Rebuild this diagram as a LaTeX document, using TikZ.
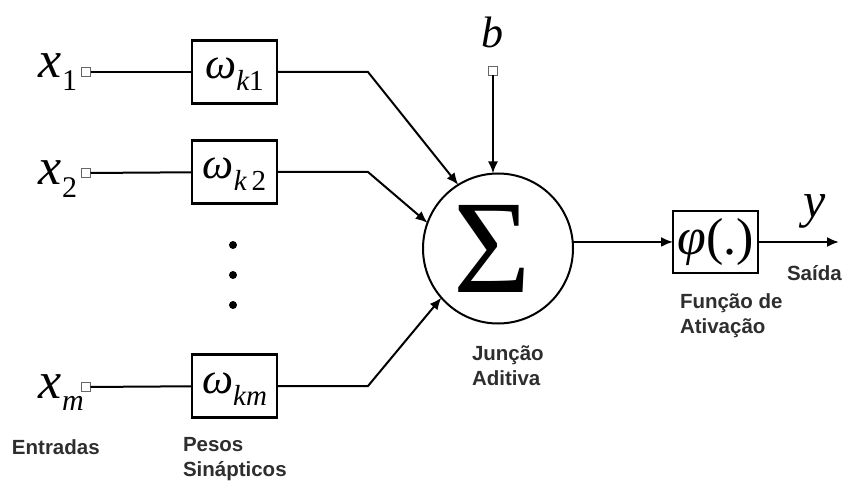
\documentclass[tikz,border=0pt]{standalone}
\usepackage{fontspec}
\setmainfont{Liberation Serif}
\newfontfamily\labfont{Liberation Sans}
\usetikzlibrary{arrows.meta}

% serif symbol of a given size
\newcommand{\sym}[2]{{\fontsize{#1}{#1}\selectfont #2}}
% input label x_i
\newcommand{\inlabel}[1]{\sym{52}{\itshape x}\kern1pt\raisebox{-13pt}{\sym{30}{#1}}}
% weight label w_kj
\newcommand{\wlabel}[1]{\sym{44}{\itshape ω}\raisebox{-12pt}{\sym{29}{#1}}}

\begin{document}
\begin{tikzpicture}[x=1pt,y=-1pt,
  every node/.style={inner sep=0pt, outer sep=0pt},
  wire/.style={line width=2pt},
  arr/.style={wire, -{Latex[length=12pt,width=10pt]}},
  port/.style={draw=black!60, fill=white, line width=1.3pt, minimum size=9pt},
  framebox/.style={draw, line width=2.4pt, minimum width=85pt, minimum height=63pt},
  wbox/.style={framebox, text height=26pt, text depth=12pt},
  caption/.style={anchor=base west, align=left, text=black!82,
                  font=\labfont\bfseries\fontsize{20.5}{25}\selectfont},
  dot/.style={circle, fill=black, minimum size=8pt}]
\useasboundingbox (0,0) rectangle (844,481);

% inputs
\node[anchor=base west] (lx1) at (38,78) {\inlabel{1}};
\node[anchor=base west] (lx2) at (38,185) {\inlabel{2}};
\node[anchor=base west] (lxm) at (38,398) {\inlabel{\itshape m}};
\node[port] (p1) at (86,72) {};
\node[port] (p2) at (86,173) {};
\node[port] (pm) at (86,387) {};

% synaptic weights
\node[wbox] (w1) at (234.5,72) {\wlabel{\itshape k\upshape 1}};
\node[wbox] (w2) at (234.5,172) {\wlabel{\itshape k\upshape\,2}};
\node[wbox] (wm) at (234.5,386) {\wlabel{\itshape km}};
\node[dot] (d1) at (233,245) {};
\node[dot] (d2) at (233,275) {};
\node[dot] (d3) at (233,305) {};

% summing junction and bias
\node[circle, draw, line width=2pt, minimum size=150pt] (sum) at (498,248.5)
  {\sym{133}{Σ}\kern12pt};
\node[anchor=base west] (lb) at (481,48) {\sym{44}{\itshape b}};
\node[port] (pb) at (493,71) {};

% activation function and output
\node[framebox, minimum height=62pt] (phi) at (715.5,242)
  {\sym{52}{\itshape φ\upshape(.)}};
\coordinate (out) at (839,242);
\node[anchor=base west] (ly) at (803,218) {\sym{50}{\itshape y}};

% bend points of the weighted inputs
\coordinate (c1) at (368,72);
\coordinate (c2) at (368,172);
\coordinate (cm) at (368,386);

% connectors
\draw[wire] (p1) -- (w1);
\draw[wire] (p2) -- (w2);
\draw[wire] (pm) -- (wm);
\draw[arr] (w1) -- (c1) -- (sum.122);
\draw[arr] (w2) -- (c2) -- (sum.160);
\draw[arr] (wm) -- (cm) -- (sum.221);
\draw[arr] (pb) -- (pb |- sum.north);
\draw[arr] (sum.5) -- (phi.west |- sum.5);
\draw[arr] (phi.east |- out) -- (out);

% captions (multi-line ones are placed by their last baseline)
\node[caption] (tin) at (12,454) {Entradas};
\node[caption] (tw) at (183,476) {Pesos\\Sinápticos};
\node[caption] (tsum) at (472,385) {Junção\\Aditiva};
\node[caption] (tphi) at (680,334) {Função de\\Ativação};
\node[caption] (tout) at (787,280) {Saída};
\end{tikzpicture}
\end{document}
